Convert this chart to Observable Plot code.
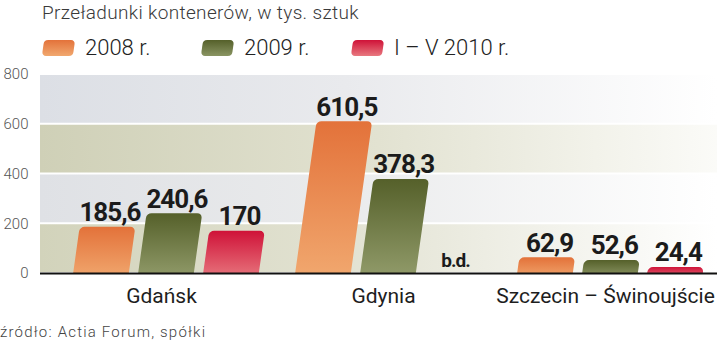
<!DOCTYPE html>
<html><head><meta charset="utf-8">
<script src="https://cdn.jsdelivr.net/npm/d3@7"></script>
<script src="https://cdn.jsdelivr.net/npm/@observablehq/plot@0.6"></script>
<style>
body{margin:0;background:#fff;font-family:Roboto,"Noto Sans",sans-serif;}
#wrap{position:relative;width:720px;height:341px;overflow:hidden;}
#title{position:absolute;left:42px;top:2px;font-size:19px;letter-spacing:0.35px;font-weight:300;color:#3a3a3a;white-space:nowrap;line-height:22px;}
.leg{position:absolute;top:36px;display:flex;align-items:center;font-size:22px;font-weight:300;color:#222;white-space:nowrap;line-height:24px;}
.sw{width:31px;height:16px;border-radius:4px;transform:skewX(-8deg);margin-right:11px;}
#chart{position:absolute;left:0;top:65px;}
#caption{position:absolute;left:0;top:323px;font-size:15px;letter-spacing:1.2px;font-weight:300;color:#444;white-space:nowrap;line-height:18px;}
</style></head>
<body>
<svg width="0" height="0" style="position:absolute">
  <defs>
    <linearGradient id="bar0" x1="0" y1="0" x2="0" y2="1"><stop offset="0" stop-color="#e3723a"/><stop offset="1" stop-color="#f1a86f"/></linearGradient>
    <linearGradient id="bar1" x1="0" y1="0" x2="0" y2="1"><stop offset="0" stop-color="#55602a"/><stop offset="1" stop-color="#929c6b"/></linearGradient>
    <linearGradient id="bar2" x1="0" y1="0" x2="0" y2="1"><stop offset="0" stop-color="#cf1238"/><stop offset="1" stop-color="#e8787f"/></linearGradient>
    <linearGradient id="band0" x1="0" y1="0" x2="1" y2="0"><stop offset="0" stop-color="#d2d3bb"/><stop offset="0.45" stop-color="#e2e2d2"/><stop offset="1" stop-color="#ffffff"/></linearGradient>
    <linearGradient id="band1" x1="0" y1="0" x2="1" y2="0"><stop offset="0" stop-color="#dfe1e5"/><stop offset="0.45" stop-color="#eaebec"/><stop offset="1" stop-color="#ffffff"/></linearGradient>
    <linearGradient id="band2" x1="0" y1="0" x2="1" y2="0"><stop offset="0" stop-color="#cfd0b7"/><stop offset="0.5" stop-color="#e2e2d1"/><stop offset="1" stop-color="#fbfbf8"/></linearGradient>
    <linearGradient id="band3" x1="0" y1="0" x2="1" y2="0"><stop offset="0" stop-color="#dcdfe5"/><stop offset="0.45" stop-color="#e9eaed"/><stop offset="1" stop-color="#ffffff"/></linearGradient>
  </defs>
</svg>
<div id="wrap">
  <div id="title"></div>
  <div id="legend"></div>
  <div id="chart"></div>
  <div id="caption"></div>
</div>
<script>
const title = "Przeładunki kontenerów, w tys. sztuk";
const caption = "źródło: Actia Forum, spółki";
const cities = ["Gdańsk", "Gdynia", "Szczecin – Świnoujście"];
const years = ["2008 r.", "2009 r.", "I – V 2010 r."];
const v2008 = [185.6, 610.5, 62.9];
const v2009 = [240.6, 378.3, 52.6];
const v2010 = [170, null, 24.4];
const yTicks = [0, 200, 400, 600, 800];
const bandEdges = [0, 200, 400, 600, 800];
const missingLabel = "b.d.";

const series = [v2008, v2009, v2010];
const rows = cities.flatMap((c, i) => years.map((yr, j) => ({city: c, year: yr, value: series[j][i]})));
const bands = d3.pairs(bandEdges).map(([a, b]) => ({y1: a, y2: b}));
const fmt = v => String(v).replace(".", ",");

document.getElementById("title").textContent = title;
document.getElementById("caption").textContent = caption;
const legLeft = [43, 202, 352];
const leg = document.getElementById("legend");
years.forEach((yr, j) => {
  const it = document.createElement("div");
  it.className = "leg";
  it.style.left = legLeft[j] + "px";
  const sw = document.createElement("div");
  sw.className = "sw";
  sw.style.background = ["linear-gradient(#e3723a,#f1a86f)", "linear-gradient(#55602a,#8a9563)", "linear-gradient(#cf1238,#e8787f)"][j];
  const t = document.createElement("span");
  t.textContent = yr;
  it.append(sw, t);
  leg.append(it);
});

const offsets = [-65, 0, 65];
const barW = 56;
const xRange = [54, 721];
const bandStep = (xRange[1] - xRange[0]) / cities.length;
const ins = (bandStep - barW) / 2;
const skewDeg = 8;

const plot = Plot.plot({
  width: 720, height: 250,
  marginLeft: 40, marginRight: 3, marginTop: 9, marginBottom: 42,
  style: {fontFamily: "Roboto, 'Noto Sans', sans-serif", background: "transparent", overflow: "visible"},
  x: {domain: cities, range: xRange, padding: 0},
  y: {domain: [0, 800]},
  marks: [
    ...bands.map((b, i) => Plot.rectY([b], {y1: "y1", y2: "y2", fill: `url(#band${i})`, insetTop: 1, insetBottom: 1})),
    ...years.map((yr, j) => Plot.barY(rows.filter(d => d.year === yr && d.value != null), {
      x: "city", y: "value", fill: `url(#bar${j})`, dx: offsets[j],
      insetLeft: ins, insetRight: ins, insetBottom: -6, rx: 5, clip: true
    })),
    ...years.map((yr, j) => Plot.text(rows.filter(d => d.year === yr && d.value != null), {
      x: "city", y: "value", text: d => fmt(d.value), dx: offsets[j], dy: -6,
      lineAnchor: "bottom", fontSize: 26, fontWeight: 700, fill: "#1b1b1b"
    })),
    ...years.map((yr, j) => Plot.text(rows.filter(d => d.year === yr && d.value == null), {
      x: "city", y: d => 0, text: d => missingLabel, dx: offsets[j], dy: -7,
      lineAnchor: "bottom", fontSize: 19, fontWeight: 700, fill: "#1b1b1b"
    })),
    Plot.ruleY([0], {stroke: "#111", strokeWidth: 2}),
    Plot.axisY(yTicks, {tickSize: 0, tickPadding: 12, fontSize: 15, fontWeight: 300, color: "#555", label: null}),
    Plot.axisX({tickSize: 0, tickPadding: 15, fontSize: 21, color: "#1e1e1e", label: null, dx: -5})
  ]
});

const y0 = plot.scale("y").apply(0);
const k = Math.tan(skewDeg * Math.PI / 180);
d3.select(plot).selectAll('g[aria-label="bar"] rect')
  .attr("transform", `translate(0,${y0}) skewX(${-skewDeg}) translate(0,${-y0})`);
d3.select(plot).selectAll('g[aria-label="text"]').style("letter-spacing", "-1px");
d3.select(plot).selectAll('g[aria-label="text"] text').each(function() {
  const tr = this.getAttribute("transform");
  const m = tr && tr.match(/translate\(([-\d.e]+),\s*([-\d.e]+)\)/);
  if (!m) return;
  const x = +m[1], y = +m[2];
  this.setAttribute("transform", `translate(${x + k * (y0 - y) + 2},${y})`);
});
document.getElementById("chart").append(plot);
</script>
</body></html>
